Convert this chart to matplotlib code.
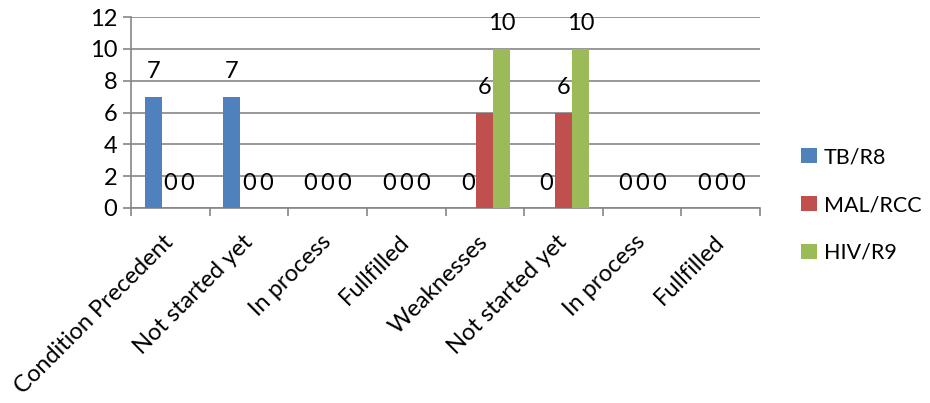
import numpy as np
import matplotlib
matplotlib.use("Agg")
import matplotlib.pyplot as plt
from matplotlib.patches import Patch

plt.rcParams["font.family"] = ["Lato", "DejaVu Sans"]

# data
categories = ["Condition Precedent", "Not started yet", "In process", "Fullfilled",
              "Weaknesses", "Not started yet", "In process", "Fullfilled"]
series_names = ["TB/R8", "MAL/RCC", "HIV/R9"]
tb_r8 = [7, 7, 0, 0, 0, 0, 0, 0]
mal_rcc = [0, 0, 0, 0, 6, 6, 0, 0]
hiv_r9 = [0, 0, 0, 0, 10, 10, 0, 0]

COLORS = ["#4F81BD", "#C0504D", "#9BBB59"]
GRID = "#868686"
FS = 17

fig = plt.figure(figsize=(9.3, 4.03), dpi=100)
ax = fig.add_axes([131 / 930, 1 - 208 / 403, (760 - 131) / 930, (208 - 17) / 403])

x = np.arange(len(categories))
w = 0.216
for k, (vals, col) in enumerate(zip([tb_r8, mal_rcc, hiv_r9], COLORS)):
    xs = x + (k - 1) * w
    ax.bar(xs, vals, width=w, color=col, zorder=3)
    for xi, v in zip(xs, vals):
        ax.annotate(str(v), (xi, v), xytext=(0, 18), textcoords="offset points",
                    ha="center", va="center", fontsize=FS, zorder=4)

ax.set_xlim(-0.5, len(categories) - 0.5)
ax.set_ylim(0, 12)
ax.set_yticks(range(0, 13, 2))
ax.yaxis.grid(True, color=GRID, lw=1.2, zorder=0)
ax.set_axisbelow(True)

ax.set_xticks(np.arange(-0.5, len(categories) + 0.5, 1))
ax.set_xticklabels([])
ax.set_xticks(x, minor=True)
ax.set_xticklabels(categories, minor=True, rotation=45, ha="right", va="center",
                   rotation_mode="anchor", fontsize=FS)
ax.tick_params(axis="x", which="minor", length=0, pad=22)
ax.tick_params(axis="x", which="major", length=6, width=1.2, color=GRID)
ax.tick_params(axis="y", length=6, width=1.2, color=GRID, labelsize=FS, pad=4)

for s in ["top", "right"]:
    ax.spines[s].set_visible(False)
for s in ["left", "bottom"]:
    ax.spines[s].set_color(GRID)
    ax.spines[s].set_linewidth(1.2)

handles = [Patch(facecolor=c, edgecolor="none") for c in COLORS]
fig.legend(handles, series_names, loc="center left", bbox_to_anchor=(801 / 930, 1 - 205 / 403),
           frameon=False, fontsize=15.5, handlelength=0.75, handleheight=0.75,
           handletextpad=0.3, labelspacing=1.3, borderaxespad=0, borderpad=0)

fig.savefig("out.png", dpi=100)
